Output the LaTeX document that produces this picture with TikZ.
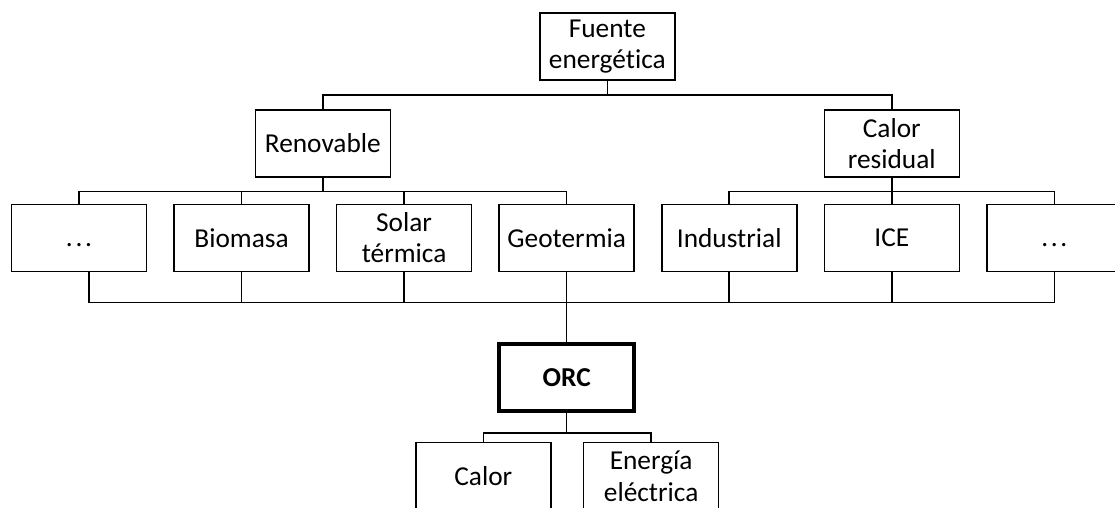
\documentclass[tikz,border=0pt]{standalone}
\usepackage{fontspec}
\setmainfont{Carlito}[Ligatures=NoCommon]
\usetikzlibrary{positioning,calc}

\begin{document}
\begin{tikzpicture}[
  x=0.45pt, y=-0.45pt,
  node distance=11.7pt,
  every node/.style={font=\fontsize{12.3}{14}\selectfont},
  box/.style={draw,line width=0.7pt,minimum width=60.75pt,minimum height=30.2pt,align=center,inner sep=1pt},
  orcbox/.style={box,line width=1.6pt,font=\fontsize{12.3}{14}\selectfont\bfseries},
  link/.style={line width=0.7pt}
]
  \useasboundingbox (0,0) rectangle (1115,507);
  \clip (0,0) rectangle (1115,507);
  % sources row
  \node[box] (dotsL) at (79,238) {\vphantom{B}.\kern1.2pt.\kern1.2pt.};
  \node[box,right=of dotsL] (bio) {Biomasa};
  \node[box,right=of bio] (solar) {Solar\\térmica};
  \node[box,right=of solar] (geo) {Geotermia};
  \node[box,right=of geo] (ind) {Industrial};
  \node[box,right=of ind] (ice) {ICE};
  \node[box,right=of ice] (dotsR) {\vphantom{B}.\kern1.2pt.\kern1.2pt.};
  % upper levels
  \coordinate (renovbase) at ($(bio.north)!0.5!(solar.north)$);
  \node[box,above=of renovbase] (renov) {Renovable};
  \node[box,above=of ice] (resid) {Calor\\residual};
  \coordinate (fuentebase) at ($(renov.north)!0.5!(resid.north)$);
  \node[box,above=12.6pt of fuentebase] (fuente) {Fuente\\energética};
  % cycle and outputs
  \node[orcbox,below=31.5pt of geo] (orc) {ORC};
  \node[box,below=13pt of orc,xshift=-37.5pt] (calor) {Calor};
  \node[box,below=13pt of orc,xshift=38pt] (elec) {Energía\\eléctrica};
  \coordinate (merge) at ($(geo.south)+(0,30)$);

  \draw[link] (fuente.south) -- ++(0,14) -| (renov.north);
  \draw[link] (fuente.south) -- ++(0,14) -| (resid.north);
  \draw[link] (renov.south) -- ++(0,14) -| (dotsL.north);
  \draw[link] (renov.south) -- ++(0,14) -| (bio.north);
  \draw[link] (renov.south) -- ++(0,14) -| (solar.north);
  \draw[link] (renov.south) -- ++(0,14) -| (geo.north);
  \draw[link] (resid.south) -- ++(0,14) -| (ind.north);
  \draw[link] (resid.south) -- ++(0,14) -| (ice.north);
  \draw[link] (resid.south) -- ++(0,14) -| (dotsR.north);
  \draw[link] ([xshift=4.5pt]dotsL.south) |- (merge) -| (dotsR.south);
  \draw[link] (bio.south) -- (bio.south |- merge);
  \draw[link] (solar.south) -- (solar.south |- merge);
  \draw[link] (ind.south) -- (ind.south |- merge);
  \draw[link] (ice.south) -- (ice.south |- merge);
  \draw[link] (geo.south) -- (orc.north);
  \draw[link] (orc.south) -- ++(0,20) -| (calor.north);
  \draw[link] (orc.south) -- ++(0,20) -| (elec.north);
\end{tikzpicture}
\end{document}
